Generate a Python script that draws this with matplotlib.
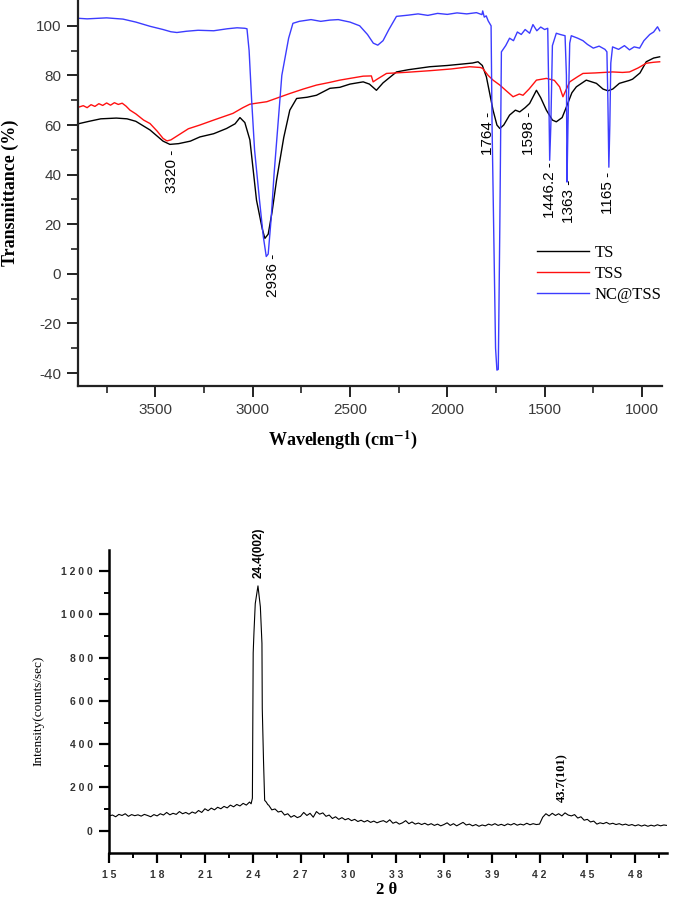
import numpy as np
import matplotlib
matplotlib.use('Agg')
import matplotlib.pyplot as plt

# ---------------- FTIR data ----------------
ts_wn = [3890, 3840, 3780, 3700, 3645, 3600, 3527, 3460, 3425, 3380, 3320, 3271, 3200, 3134, 3090,
         3065, 3040, 3014, 2980, 2950, 2937, 2920, 2900, 2877, 2840, 2809, 2774, 2720, 2672, 2603,
         2552, 2500, 2432, 2400, 2364, 2330, 2261, 2200, 2090, 2000, 1921, 1870, 1842, 1820, 1799,
         1765, 1745, 1730, 1710, 1680, 1650, 1628, 1600, 1577, 1542, 1520, 1491, 1460, 1440, 1410,
         1388, 1360, 1337, 1286, 1234, 1200, 1175, 1150, 1116, 1064, 1048, 1010, 978, 940, 909]
ts_t = [60.6, 61.5, 62.5, 62.8, 62.5, 61.5, 58, 53.5, 52.2, 52.5, 53.5, 55.2, 56.5, 58.6, 60.5,
        63, 61, 54, 29.7, 18, 14.3, 16, 25, 37.8, 55, 66, 70.7, 71.2, 72, 74.8,
        75.2, 76.5, 77.4, 76.5, 74, 77, 81.4, 82.3, 83.5, 84, 84.6, 85, 85.5, 84, 79.4,
        66, 60, 58.6, 60, 64, 66, 65.3, 67, 68.7, 74, 71, 66, 62, 61.3, 63,
        67.3, 73, 75.4, 78.1, 76.8, 74.5, 73.8, 74.5, 76.8, 78, 78.5, 81, 85.5, 87, 87.5]

tss_wn = [3890, 3870, 3850, 3830, 3810, 3790, 3770, 3750, 3730, 3710, 3690, 3670, 3650, 3630, 3600,
          3560, 3527, 3490, 3460, 3440, 3420, 3380, 3330, 3271, 3200, 3101, 3050, 3014, 2980, 2927,
          2870, 2809, 2740, 2672, 2603, 2552, 2500, 2432, 2390, 2381, 2360, 2312, 2200, 2090, 1980,
          1885, 1830, 1818, 1790, 1765, 1730, 1700, 1662, 1630, 1611, 1580, 1542, 1491, 1450, 1423,
          1406, 1385, 1371, 1330, 1303, 1240, 1151, 1100, 1064, 1020, 978, 940, 909]
tss_t = [67.3, 67.8, 67, 68.2, 67.5, 68.6, 67.9, 68.9, 68, 69, 68.3, 68.8, 67.6, 66, 64.5,
         62, 60.6, 57.5, 54.6, 53.6, 54, 56, 58.5, 60, 62, 64.7, 67, 68.4, 68.8, 69.4,
         71, 72.7, 74.5, 76.1, 77.2, 78.1, 78.8, 79.7, 79.8, 77.4, 78.5, 80.8, 81.3, 81.9, 82.6,
         83.5, 83.2, 82.8, 80, 78.1, 76.1, 74, 71.4, 72.5, 72, 74.5, 78.1, 78.8, 78, 75.4,
         71.4, 75, 77.4, 79.5, 80.8, 81, 81.4, 81.2, 81.4, 83, 84.9, 85.3, 85.5]

nc_wn = [3890, 3850, 3800, 3750, 3700, 3666, 3600, 3527, 3460, 3420, 3389, 3340, 3280, 3200, 3130,
         3080, 3040, 3029, 3018, 3005, 2990, 2965, 2945, 2930, 2920, 2905, 2890, 2870, 2850, 2815,
         2793, 2760, 2700, 2650, 2603, 2560, 2500, 2450, 2410, 2380, 2357, 2330, 2300, 2261, 2200,
         2150, 2100, 2050, 2000, 1950, 1900, 1850, 1822, 1818, 1810, 1800, 1790, 1775, 1770, 1752,
         1745, 1738, 1730, 1722, 1700, 1680, 1660, 1640, 1620, 1600, 1577, 1560, 1540, 1520, 1500,
         1484, 1478, 1474, 1468, 1460, 1440, 1420, 1395, 1388, 1385, 1380, 1371, 1363, 1330, 1303,
         1280, 1250, 1220, 1190, 1180, 1175, 1170, 1165, 1160, 1151, 1120, 1090, 1064, 1040, 1012,
         990, 960, 940, 920, 909]
nc_t = [103, 102.8, 103, 103.2, 102.9, 102.7, 101.5, 99.8, 98.5, 97.6, 97.3, 97.8, 98.2, 98, 98.8,
        99.2, 99, 98.8, 90, 70, 50, 30, 15, 7, 8, 22, 40, 60, 80, 95,
        101, 101.8, 102.5, 101.8, 102.3, 102.5, 101.5, 100, 96.5, 93, 92.2, 94, 98.5, 103.8, 104.3,
        104.8, 104.2, 105, 104.6, 105.2, 104.8, 105.3, 104.5, 106, 103.5, 104, 102, 100, 60, -30,
        -38.8, -38.5, 20, 89.5, 92, 95, 94, 97.5, 96.5, 98.5, 97, 100.5, 98, 99.5, 98.5,
        99, 70, 45.8, 60, 92, 97, 96.5, 96, 80, 37, 60, 93, 96, 95, 94,
        92.5, 91, 91.8, 90.5, 89.5, 70, 43, 60, 85, 91.5, 90.5, 92, 90.3, 91.5, 91,
        94, 96.5, 97.5, 99.6, 98]

peak_labels = ['3320 -', '2936 -', '1764 -', '1598 -', '1446.2 -', '1363 -', '1165 -']
peak_x = [3416, 2897, 1791, 1582, 1474, 1375, 1175]
peak_y = [50, 8.3, 65.3, 65.3, 45.2, 37.8, 41.1]

# ---------------- XRD data ----------------
seg1_i = [68, 72, 64, 75, 70, 78, 66, 74, 69, 73,
          67, 75, 70, 64, 74, 68, 78, 72, 84, 73,
          80, 75, 88, 78, 84, 76, 86, 80, 93, 84,
          101, 92, 104, 96, 108, 101, 112, 105, 118, 110,
          121, 114, 126, 118, 132]
peak_tt = [23.9, 23.98, 24.0, 24.03, 24.08, 24.16, 24.33, 24.48, 24.58, 24.6, 24.68, 24.75, 24.85, 24.95]
peak_i = [124, 150, 456, 822, 919, 1050, 1132, 1035, 866, 565, 318, 140, 132, 120]
seg3_i = [118, 96, 100, 86, 90, 72, 78, 62, 70, 60,
          66, 84, 70, 80, 62, 88, 76, 82, 66, 72,
          56, 64, 52, 60, 50, 56, 46, 52, 42, 48,
          40, 47, 38, 44, 36, 42, 46, 38, 50, 34,
          40, 30, 36, 46, 32, 40, 30, 35, 28, 34,
          26, 32, 24, 30, 22, 28, 36, 24, 32, 22,
          30, 38, 26, 30, 22, 28, 20, 26, 22, 30,
          25, 32, 24, 29, 23, 31, 26, 33, 25, 30,
          26, 34, 27, 32, 28, 30, 62, 78, 68, 80,
          70, 78, 68, 82, 72, 68, 74, 58, 64, 48,
          52, 40, 44, 30, 36, 32, 38, 30, 34, 28,
          32, 26, 30, 24, 28, 22, 27, 21, 26, 20,
          25, 21, 27, 22, 26, 24]
seg1_tt = np.round(np.arange(15.0, 23.81, 0.2), 2)
seg3_tt = np.round(np.arange(25.0, 50.01, 0.2), 2)
xrd_tt = np.concatenate([seg1_tt, peak_tt, seg3_tt])
xrd_i = np.concatenate([seg1_i, peak_i, seg3_i])

plt.rcParams['font.family'] = ['Liberation Sans', 'DejaVu Sans']
plt.rcParams['axes.unicode_minus'] = False
plt.rcParams['mathtext.fontset'] = 'stix'

W, H = 675, 897
fig = plt.figure(figsize=(W / 100, H / 100), dpi=100)

# ---------------- top: FTIR ----------------
ax1 = fig.add_axes([78 / W, 1 - 386 / H, (662 - 78) / W, 386 / H])
ax1.plot(ts_wn, ts_t, color='black', lw=1.0, label='TS')
ax1.plot(tss_wn, tss_t, color='#ff1010', lw=1.0, label='TSS')
ax1.plot(nc_wn, nc_t, color='#3c3cff', lw=1.0, label='NC@TSS')
ax1.set_xlim(3897, 897)
ax1.set_ylim(-45.2, 110.4)
ax1.set_xticks([3500, 3000, 2500, 2000, 1500, 1000])
ax1.set_xticks([3750, 3250, 2750, 2250, 1750, 1250], minor=True)
ax1.set_yticks([-40, -20, 0, 20, 40, 60, 80, 100])
ax1.set_yticks([-30, -10, 10, 30, 50, 70, 90], minor=True)
for s in ['top', 'right']:
    ax1.spines[s].set_visible(False)
for s in ['left', 'bottom']:
    ax1.spines[s].set_linewidth(1.6)
    ax1.spines[s].set_color('#222222')
ax1.tick_params(which='major', direction='out', length=8, width=1.4, colors='#222222',
                labelsize=11, labelcolor='#3a3a3a', pad=4)
ax1.tick_params(which='minor', direction='out', length=5, width=1.2, colors='#222222')

for lab, xx, yy in zip(peak_labels, peak_x, peak_y):
    ax1.text(xx, yy, lab, rotation=90, ha='center', va='top', fontsize=11, color='black')

ax1.set_ylabel('Transmittance (%)', family='Liberation Serif', fontweight='bold', fontsize=13)
ax1.yaxis.set_label_coords((19 - 78) / 584, 0.5)
ax1.set_xlabel(r'Wavelength (cm$^{\mathbf{-1}}$)', family='Liberation Serif', fontweight='bold',
               fontsize=13)
ax1.xaxis.set_label_coords((343 - 78) / 584, (386 - 428) / 386)

ax1.legend(loc='upper left', bbox_to_anchor=(537 / W, 1 - 245 / H), bbox_transform=fig.transFigure,
           frameon=False, borderaxespad=0, borderpad=0, handlelength=3.1, handletextpad=0.35,
           labelspacing=0.3, prop={'family': 'Liberation Serif', 'size': 12})

# ---------------- bottom: XRD ----------------
ax2 = fig.add_axes([109.3 / W, 1 - 853.3 / H, (667 - 109.3) / W, (853.3 - 550) / H])
ax2.plot(xrd_tt, xrd_i, color='black', lw=0.8)
ax2.set_xlim(15, 50)
ax2.set_ylim(-105, 1298)
ax2.set_xticks(np.arange(15, 49, 3))
ax2.set_xticklabels([' '.join(str(v)) for v in range(15, 49, 3)])
ax2.set_xticks(np.arange(16.5, 50, 3), minor=True)
ax2.set_yticks(np.arange(0, 1201, 200))
ax2.set_yticklabels([' '.join(str(v)) for v in range(0, 1201, 200)])
ax2.set_yticks(np.arange(100, 1300, 200), minor=True)
for s in ['top', 'right']:
    ax2.spines[s].set_visible(False)
for s in ['left', 'bottom']:
    ax2.spines[s].set_linewidth(1.8)
ax2.tick_params(which='major', direction='out', length=7, width=1.6, labelsize=7.5, pad=5)
ax2.tick_params(which='minor', direction='out', length=3.5, width=1.4)
for t in ax2.get_xticklabels() + ax2.get_yticklabels():
    t.set_fontweight('bold')
    t.set_color('#333333')

ax2.text(24.38, 1170, '24.4(002)', rotation=90, ha='center', va='bottom', fontsize=8.5,
         fontweight='bold')
ax2.text(43.45, 132, '43.7(101)', rotation=90, ha='center', va='bottom', fontsize=9,
         fontweight='bold', family='Liberation Serif')

ax2.set_ylabel('Intensity(counts/sec)', family='Liberation Serif', fontsize=9.5)
ax2.yaxis.set_label_coords((44 - 109.3) / 557.7, 0.47)
ax2.set_xlabel('2 θ', family='Liberation Serif', fontweight='bold', fontsize=12)
ax2.xaxis.set_label_coords(0.497, (853.3 - 882) / 303.3)

fig.savefig('out.png', dpi=100)
